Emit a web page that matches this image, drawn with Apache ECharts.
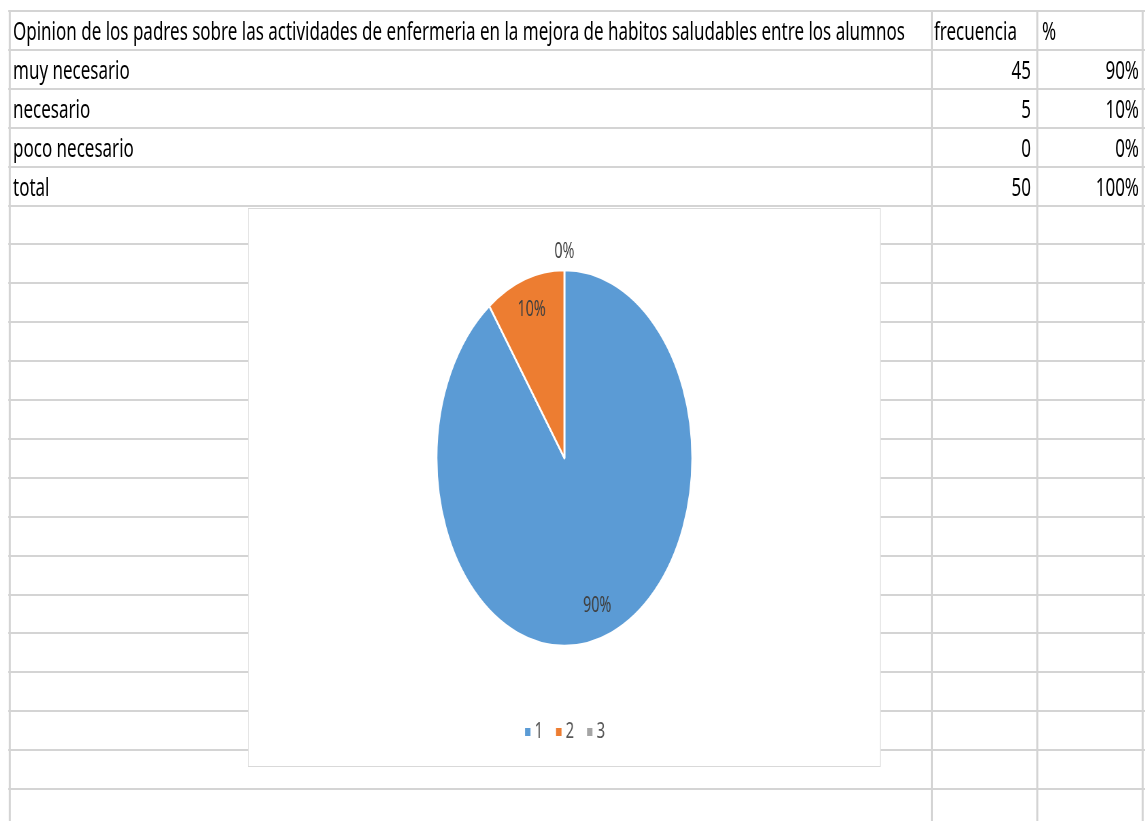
<!DOCTYPE html>
<html>
<head>
<meta charset="utf-8">
<script src="https://cdn.jsdelivr.net/npm/echarts@6/dist/echarts.min.js"></script>
<style>
* {
  margin: 0;
  padding: 0;
}
body {
  width: 1145px;
  height: 821px;
  overflow: hidden;
  background-color: #fff;
}
#sheet {
  position: absolute;
  left: 0;
  top: 0;
  width: 1684px;
  height: 821px;
  /* the whole sheet is squeezed sideways, like the screenshot */
  transform: scaleX(0.68);
  transform-origin: 0 0;
  font-family: "Noto Sans";
}
.hline {
  position: absolute;
  height: 2px;
  background-color: #d4d4d4;
}
.vline {
  position: absolute;
  width: 3px;
  background-color: #d4d4d4;
}
.cell {
  position: absolute;
  font-size: 25px;
  color: #000;
  white-space: nowrap;
}
#chartBox {
  position: absolute;
  left: 365px;
  top: 208px;
  width: 928px;
  height: 557px;
  background-color: #fff;
  border: 1px solid #d9d9d9;
  border-left-width: 1.5px;
  border-right-width: 1.5px;
}
#chart {
  width: 100%;
  height: 100%;
}
</style>
</head>
<body>
<div id="sheet">
  <div id="chartBox"><div id="chart"></div></div>
</div>
<script>
// table data
var headers = ['Opinion de los padres sobre las actividades de enfermeria en la mejora de habitos saludables entre los alumnos', 'frecuencia', '%'];
var categories = ['muy necesario', 'necesario', 'poco necesario'];
var frecuencia = [45, 5, 0];
var porcentaje = ['90%', '10%', '0%'];
var totalLabel = 'total';
var totalFrecuencia = 50;
var totalPorcentaje = '100%';
// pie legend names (excel default)
var pieNames = ['1', '2', '3'];
var pieColors = ['#5B9BD5', '#ED7D31', '#A5A5A5'];

var S = 0.68;          // horizontal squeeze
var top0 = 11;
var rowH = 38.9;
var sheet = document.getElementById('sheet');
var chartBox = document.getElementById('chartBox');

function addDiv(cls, style, text) {
  var d = document.createElement('div');
  d.className = cls;
  for (var k in style) d.style[k] = style[k];
  if (text !== undefined) d.textContent = text;
  sheet.insertBefore(d, chartBox);
  return d;
}

// grid lines
for (var k = 0; k <= 20; k++) {
  addDiv('hline', {left: (8 / S) + 'px', width: ((1145 - 8) / S) + 'px', top: (top0 + k * rowH - 1) + 'px'});
}
var colX = [10, 932, 1037, 1143];
for (var i = 0; i < colX.length; i++) {
  addDiv('vline', {left: (colX[i] / S - 1.5) + 'px', top: top0 + 'px', height: (821 - top0) + 'px'});
}

// cells
function rowTop(r) { return (top0 + r * rowH) + 'px'; }
var cellCss = {height: rowH + 'px', lineHeight: (rowH + 1) + 'px'};
function cell(r, left, width, align, text) {
  var st = {top: rowTop(r), left: left + 'px', width: width + 'px', textAlign: align};
  for (var k in cellCss) st[k] = cellCss[k];
  addDiv('cell', st, text);
}
cell(0, 13 / S, 1340, 'left', headers[0]);
cell(0, 934 / S, 140, 'left', headers[1]);
cell(0, 1042 / S, 140, 'left', headers[2]);
var rowsA = categories.concat([totalLabel]);
var rowsB = frecuencia.concat([totalFrecuencia]);
var rowsC = porcentaje.concat([totalPorcentaje]);
for (var r = 0; r < rowsA.length; r++) {
  cell(r + 1, 13 / S, 1340, 'left', rowsA[r]);
  cell(r + 1, 1031 / S - 140, 140, 'right', String(rowsB[r]));
  cell(r + 1, 1139 / S - 140, 140, 'right', rowsC[r]);
}

// pie
var pieData = [];
for (var i = 0; i < pieNames.length; i++) {
  pieData.push({name: pieNames[i], value: frecuencia[i]});
}
function ringData(showIf) {
  return pieData.map(function (d, i) {
    return {name: d.name, value: d.value, label: {show: showIf(d.value)}};
  });
}
var labelStyle = {
  fontFamily: 'Noto Sans',
  fontSize: 21,
  color: '#404040',
  position: 'inside',
  formatter: function (p) { return porcentaje[p.dataIndex]; }
};

var myChart = echarts.init(document.getElementById('chart'));
myChart.setOption({
  animation: false,
  color: pieColors,
  legend: {
    data: pieNames,
    top: 507,
    left: 'center',
    icon: 'rect',
    itemWidth: 10,
    itemHeight: 10,
    itemGap: 17,
    textStyle: {fontFamily: 'Noto Sans', fontSize: 22, color: '#595959'}
  },
  series: [
    {
      type: 'pie',
      radius: 188,
      center: ['50%', 249],
      startAngle: 90,
      clockwise: true,
      label: {show: false},
      labelLine: {show: false},
      itemStyle: {borderColor: '#fff', borderWidth: 2.5},
      emphasis: {disabled: true},
      data: pieData
    },
    {
      // transparent ring that carries the inner labels
      type: 'pie',
      radius: [118, 188],
      center: ['50%', 249],
      startAngle: 90,
      silent: true,
      itemStyle: {color: 'transparent'},
      label: labelStyle,
      labelLine: {show: false},
      data: ringData(function (v) { return v > 0; })
    },
    {
      // ring just outside the pie for the 0% label
      type: 'pie',
      radius: [194, 212],
      center: ['50%', 249],
      startAngle: 90,
      silent: true,
      itemStyle: {color: 'transparent'},
      label: labelStyle,
      labelLine: {show: false},
      data: ringData(function (v) { return v === 0; })
    }
  ]
});
</script>
</body>
</html>
